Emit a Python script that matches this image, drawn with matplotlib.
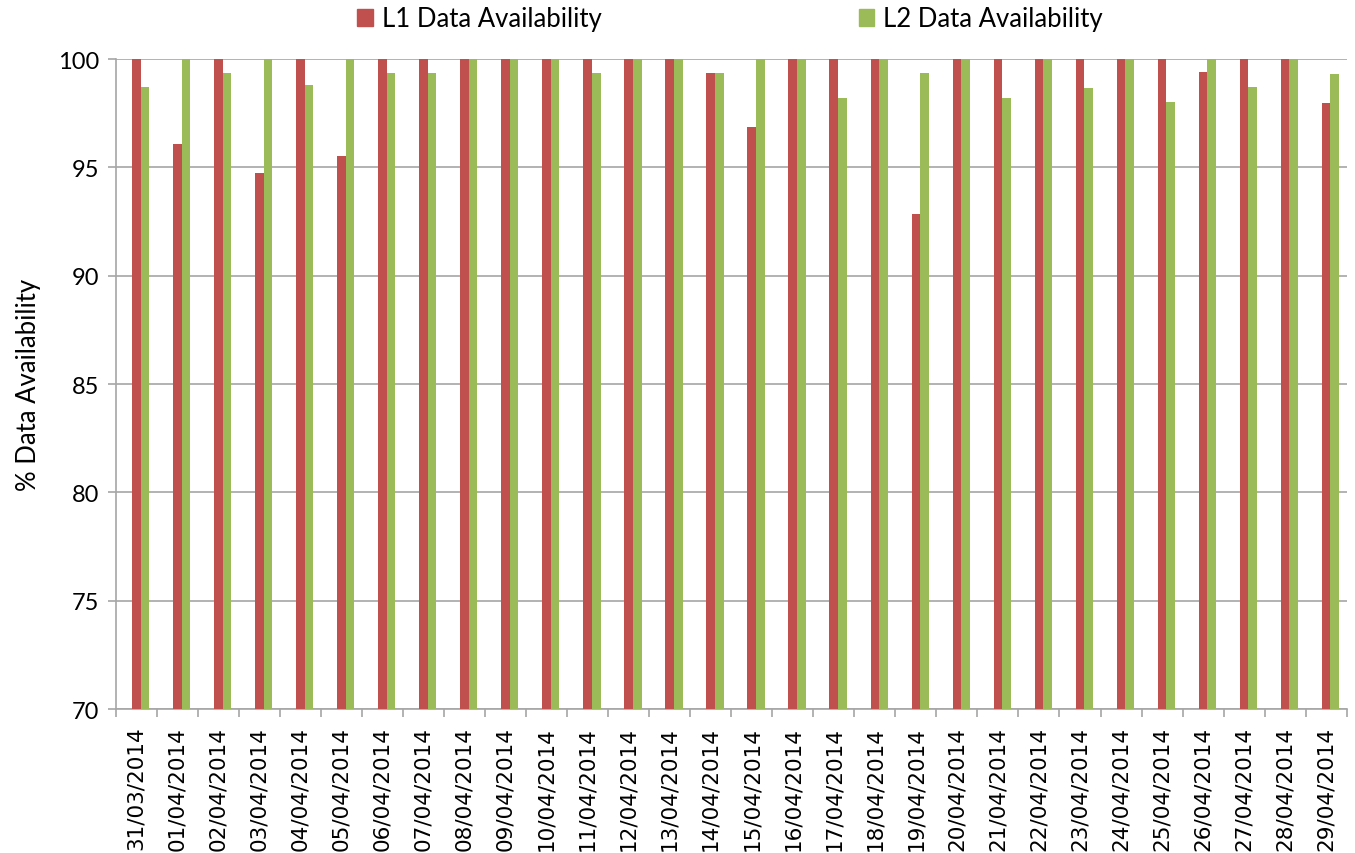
import numpy as np
import matplotlib.pyplot as plt
from matplotlib.patches import Patch

# --- dane ---
dates = ['31/03/2014', '01/04/2014', '02/04/2014', '03/04/2014', '04/04/2014',
         '05/04/2014', '06/04/2014', '07/04/2014', '08/04/2014', '09/04/2014',
         '10/04/2014', '11/04/2014', '12/04/2014', '13/04/2014', '14/04/2014',
         '15/04/2014', '16/04/2014', '17/04/2014', '18/04/2014', '19/04/2014',
         '20/04/2014', '21/04/2014', '22/04/2014', '23/04/2014', '24/04/2014',
         '25/04/2014', '26/04/2014', '27/04/2014', '28/04/2014', '29/04/2014']
l1 = [100, 96.07, 100, 94.72, 100, 95.54, 100, 100, 100, 100,
      100, 100, 100, 100, 99.36, 96.84, 100, 100, 100, 92.85,
      100, 100, 100, 100, 100, 100, 99.38, 100, 100, 97.96]
l2 = [98.72, 100, 99.36, 100, 98.79, 100, 99.36, 99.36, 100, 100,
      100, 99.36, 100, 100, 99.36, 100, 100, 98.18, 100, 99.36,
      100, 98.18, 100, 98.66, 100, 98.02, 100, 98.72, 100, 99.31]

RED = '#C0504D'
GREEN = '#9BBB59'
GRID = '#A6A6A6'

fig = plt.figure(figsize=(13.55, 8.54), dpi=100)
ax = fig.add_axes([115.7 / 1355, 1 - 710 / 854, (1346.7 - 115.7) / 1355, 650 / 854])

x = np.arange(len(dates))
w = 0.21
ax.bar(x, np.array(l1) - 70, width=w, bottom=70, color=RED, zorder=3)
ax.bar(x + w, np.array(l2) - 70, width=w, bottom=70, color=GREEN, zorder=3)

ax.set_xlim(-0.5, len(dates) - 0.5)
ax.set_ylim(70, 100)
ax.set_yticks(np.arange(70, 101, 5))
ax.yaxis.grid(True, color=GRID, linewidth=1.2, zorder=0)

ax.set_xticks(x)
ax.set_xticklabels(dates, rotation=90, fontsize=15.5, family='DejaVu Sans')
ax.set_xticks(np.arange(-0.5, len(dates)), minor=True)
ax.tick_params(axis='x', which='major', length=0, pad=12)
ax.tick_params(axis='x', which='minor', length=5.5, color=GRID, width=1.2)
ax.tick_params(axis='y', length=6, color=GRID, width=1.2, labelsize=17, pad=6)
for lab in ax.get_yticklabels():
    lab.set_family('Lato')

for s in ['top', 'right']:
    ax.spines[s].set_visible(False)
for s in ['left', 'bottom']:
    ax.spines[s].set_color(GRID)
    ax.spines[s].set_linewidth(1.2)

ax.set_ylabel('% Data Availability', fontsize=18.5, family='Lato', labelpad=12)

handles = [Patch(color=RED, label='L1 Data Availability'),
           Patch(color=GREEN, label='L2 Data Availability')]
fig.legend(handles=handles, loc='center', bbox_to_anchor=(730 / 1355, 1 - 20 / 854),
           ncol=2, frameon=False, prop={'family': 'Lato', 'size': 18.5},
           handlelength=0.6, handleheight=0.6, handletextpad=0.35, columnspacing=10)

fig.savefig('out.png', dpi=100)
